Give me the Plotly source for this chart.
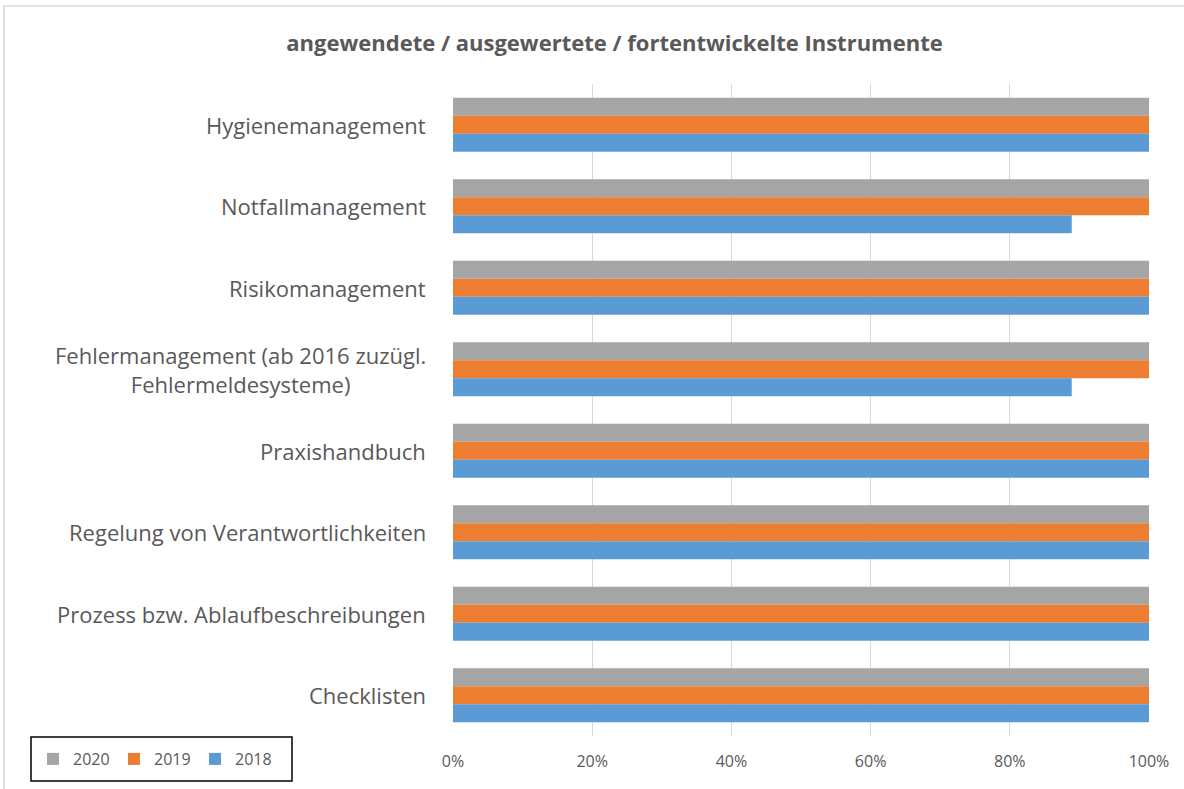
import plotly.graph_objects as go

categories = ["Hygienemanagement", "Notfallmanagement", "Risikomanagement",
              "Fehlermanagement (ab 2016 zuzügl.<br>Fehlermeldesysteme)",
              "Praxishandbuch", "Regelung von Verantwortlichkeiten",
              "Prozess bzw. Ablaufbeschreibungen", "Checklisten"]
v2020 = [1.0, 1.0, 1.0, 1.0, 1.0, 1.0, 1.0, 1.0]
v2019 = [1.0, 1.0, 1.0, 1.0, 1.0, 1.0, 1.0, 1.0]
v2018 = [1.0, 0.889, 1.0, 0.889, 1.0, 1.0, 1.0, 1.0]
tick_vals = [0, 0.2, 0.4, 0.6, 0.8, 1.0]
tick_text = ["0%", "20%", "40%", "60%", "80%", "100%"]

W, H = 1184, 789
L, R, T, B = 453, 1149, 84, 736
pw, ph = R - L, B - T


def px_x(x):
    return (x - L) / pw


def px_y(y):
    return (B - y) / ph


FONT = "Open Sans"
fig = go.Figure()
for name, vals, col in [("2020", v2020, "#A5A5A5"), ("2019", v2019, "#ED7D31"), ("2018", v2018, "#5B9BD5")]:
    fig.add_trace(go.Bar(y=categories, x=vals, name=name, orientation="h",
                         marker=dict(color=col, line=dict(width=0))))

for c in categories:
    fig.add_annotation(x=px_x(428), xref="paper", y=c, yref="y", text=c,
                       showarrow=False, xanchor="right", align="center",
                       font=dict(family=FONT, size=22, color="#595959"))

# chart outer border (top and left edges visible)
fig.add_shape(type="line", xref="paper", yref="paper",
              x0=px_x(4), x1=px_x(1190), y0=px_y(6), y1=px_y(6),
              line=dict(color="#D9D9D9", width=1.5))
fig.add_shape(type="line", xref="paper", yref="paper",
              x0=px_x(4), x1=px_x(4), y0=px_y(6), y1=px_y(795),
              line=dict(color="#D9D9D9", width=1.5))
# legend frame
fig.add_shape(type="rect", xref="paper", yref="paper",
              x0=px_x(31), x1=px_x(292), y0=px_y(781), y1=px_y(737),
              line=dict(color="black", width=1.5))

fig.update_layout(
    width=W, height=H,
    margin=dict(l=L, r=W - R, t=T, b=H - B),
    paper_bgcolor="white", plot_bgcolor="white",
    barmode="group", bargap=0.34, bargroupgap=0,
    title=dict(text="<b>angewendete / ausgewertete / fortentwickelte Instrumente</b>",
               x=0.519, xanchor="center", y=1 - 43 / H, yanchor="middle",
               font=dict(family=FONT, size=22, color="#595959")),
    xaxis=dict(range=[0, 1], tickvals=tick_vals, ticktext=tick_text,
               showgrid=True, gridcolor="#D9D9D9", gridwidth=1, zeroline=False,
               showline=False, ticks="", ticklabelstandoff=14,
               tickfont=dict(family=FONT, size=16, color="#595959")),
    yaxis=dict(autorange="reversed", showticklabels=False, showgrid=False,
               showline=False, ticks=""),
    legend=dict(orientation="h", x=px_x(33), xanchor="left",
                y=px_y(759), yanchor="middle",
                bordercolor="rgba(0,0,0,0)", borderwidth=0, entrywidth=36,
                bgcolor="rgba(0,0,0,0)", traceorder="normal",
                font=dict(family=FONT, size=16, color="#595959")),
    showlegend=True,
)
fig.write_html("out.html", config={"displayModeBar": False},
               post_script="document.body.style.margin='0';")
